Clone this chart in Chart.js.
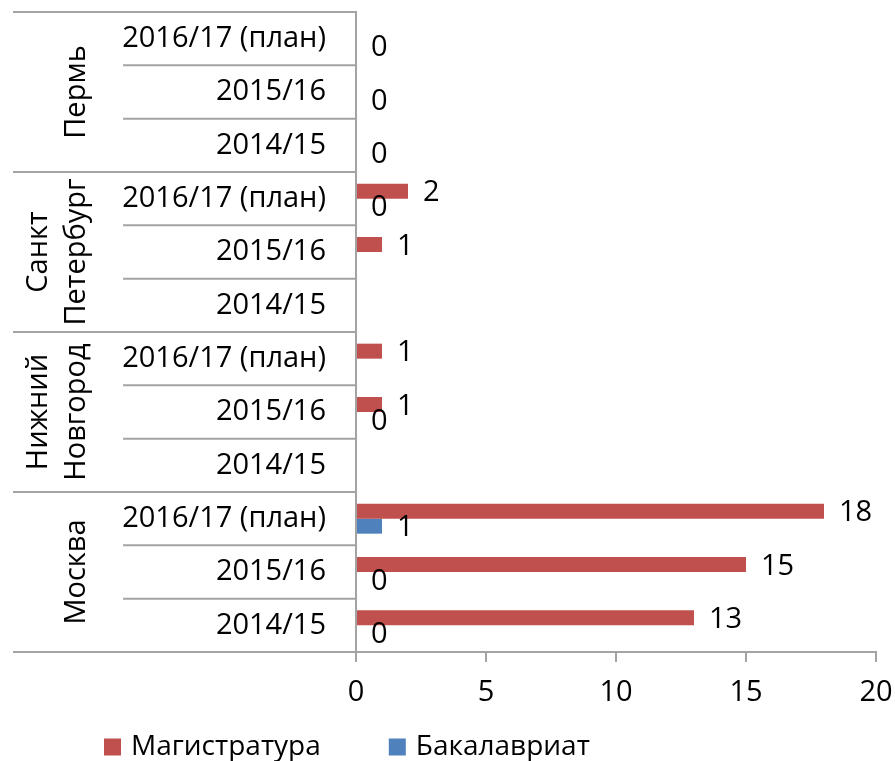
<!DOCTYPE html>
<html>
<head>
<meta charset="utf-8">
<script src="https://cdn.jsdelivr.net/npm/chart.js@4/dist/chart.umd.min.js"></script>
<style>
  html, body { margin: 0; padding: 0; background: #ffffff; }
  #wrap { width: 895px; height: 761px; position: relative; }
</style>
</head>
<body>
<div id="wrap"><canvas id="c" width="895" height="761"></canvas></div>
<script>
// ---- data ----
const cities = [['Пермь'], ['Санкт', 'Петербург'], ['Нижний', 'Новгород'], ['Москва']];
const years = ['2016/17 (план)', '2015/16', '2014/15'];
const categories = cities.flatMap(() => years);
const magistratura = [null, null, null, 2, 1, null, 1, 1, null, 18, 15, 13];
const bakalavriat  = [0, 0, 0, 0, null, null, null, 0, null, 1, 0, 0];
const seriesNames = ['Магистратура', 'Бакалавриат'];
const seriesColors = ['#C0504D', '#4F81BD'];
const xTicks = [0, 5, 10, 15, 20];

const FONT = '"Open Sans", "Noto Sans", sans-serif';
const LINE = '#A3A3A3';

const groupPlugin = {
  id: 'groupAxis',
  afterDraw(chart) {
    const ctx = chart.ctx;
    const y = chart.scales.y;
    const area = chart.chartArea;
    const step = y.getPixelForValue(1) - y.getPixelForValue(0);
    const bounds = [];
    for (let i = 0; i <= categories.length; i++) bounds.push(y.getPixelForValue(i) - step / 2);
    ctx.save();
    ctx.strokeStyle = LINE;
    ctx.lineWidth = 2;
    bounds.forEach((b, i) => {
      const x0 = (i % years.length === 0) ? 13 : 123;
      ctx.beginPath();
      ctx.moveTo(x0, b);
      ctx.lineTo(area.left, b);
      ctx.stroke();
    });
    // city labels (rotated)
    ctx.fillStyle = '#000000';
    ctx.font = '29px ' + FONT;
    ctx.textAlign = 'center';
    ctx.textBaseline = 'alphabetic';
    cities.forEach((lines, g) => {
      const cy = (bounds[g * years.length] + bounds[(g + 1) * years.length]) / 2;
      const n = lines.length;
      lines.forEach((ln, k) => {
        const bx = 85 - (n - 1 - k) * 38.5;
        ctx.save();
        ctx.translate(bx, cy);
        ctx.rotate(-Math.PI / 2);
        ctx.fillText(ln, 0, 0);
        ctx.restore();
      });
    });
    // data labels
    ctx.font = '29px ' + FONT;
    ctx.textAlign = 'left';
    ctx.textBaseline = 'middle';
    chart.data.datasets.forEach((ds, di) => {
      const meta = chart.getDatasetMeta(di);
      meta.data.forEach((el, i) => {
        const v = ds.data[i];
        if (v === null || v === undefined) return;
        ctx.fillText(String(v), el.x + 15, el.y + 2);
      });
    });
    // legend
    ctx.font = '28px ' + FONT;
    let lx = 104;
    const ly = 747;
    chart.data.datasets.forEach((ds) => {
      ctx.fillStyle = ds.backgroundColor;
      ctx.fillRect(lx, ly - 8.5, 17, 17);
      ctx.fillStyle = '#000000';
      ctx.fillText(ds.label, lx + 27, ly);
      lx += 27 + ctx.measureText(ds.label).width + 68;
    });
    ctx.restore();
  }
};

new Chart(document.getElementById('c'), {
  type: 'bar',
  data: {
    labels: categories,
    datasets: [
      { label: seriesNames[0], data: magistratura, backgroundColor: seriesColors[0], borderWidth: 0 },
      { label: seriesNames[1], data: bakalavriat, backgroundColor: seriesColors[1], borderWidth: 0 }
    ]
  },
  options: {
    indexAxis: 'y',
    responsive: false,
    animation: false,
    devicePixelRatio: 1,
    layout: { padding: { top: 12, right: 19, bottom: 49, left: 0 } },
    datasets: { bar: { categoryPercentage: 0.5625, barPercentage: 1 } },
    plugins: { legend: { display: false }, tooltip: { enabled: false } },
    scales: {
      x: {
        type: 'linear',
        min: xTicks[0],
        max: xTicks[xTicks.length - 1],
        afterBuildTicks(scale) { scale.ticks = xTicks.map(v => ({ value: v })); },
        afterFit(scale) {
          scale.height = 60;
          scale.paddingLeft = 0; scale.paddingRight = 0;
          scale.paddingTop = 0; scale.paddingBottom = 0;
        },
        grid: { display: true, drawOnChartArea: false, drawTicks: true, tickLength: 10, color: LINE, lineWidth: 2 },
        border: { display: true, color: LINE, width: 2 },
        ticks: { font: { family: FONT, size: 29 }, color: '#000000', padding: 13, maxRotation: 0 }
      },
      y: {
        type: 'category',
        offset: true,
        afterFit(scale) {
          scale.width = 356;
          scale.paddingTop = 0; scale.paddingBottom = 0;
          scale.paddingLeft = 0; scale.paddingRight = 0;
        },
        grid: { display: false, drawTicks: false },
        border: { display: true, color: LINE, width: 2 },
        ticks: { font: { family: FONT, size: 29 }, color: '#000000', padding: 30, autoSkip: false }
      }
    }
  },
  plugins: [groupPlugin]
});
</script>
</body>
</html>
